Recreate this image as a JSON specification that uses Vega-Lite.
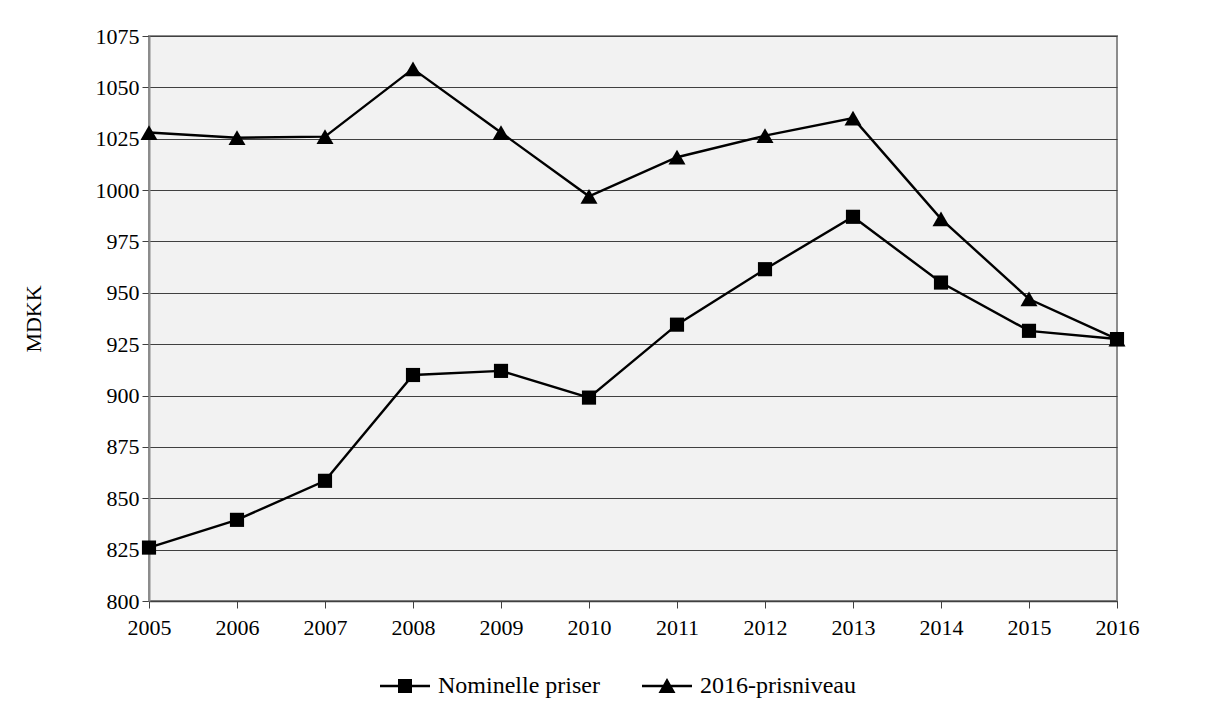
{
  "$schema": "https://vega.github.io/schema/vega-lite/v6.json",
  "autosize": "none",
  "width": 968,
  "height": 565,
  "padding": {"left": 149, "top": 36, "right": 102, "bottom": 119},
  "background": "white",
  "config": {
    "font": "Liberation Serif",
    "view": {"fill": "#f2f2f2", "stroke": "#8c8c8c", "strokeWidth": 2},
    "axis": {
      "labelFont": "Liberation Serif", "titleFont": "Liberation Serif",
      "labelFontSize": 22, "titleFontSize": 22, "labelColor": "black", "titleColor": "black",
      "titleFontWeight": "normal", "tickColor": "#404040", "tickSize": 7,
      "domainColor": "#8c8c8c", "domainWidth": 2
    },
    "legend": {"labelFont": "Liberation Serif", "labelFontSize": 24, "labelColor": "black", "labelLimit": 400}
  },
  "data": {"values": [
    {"year": 2005, "series": "Nominelle priser", "v": 826},
    {"year": 2006, "series": "Nominelle priser", "v": 839.5},
    {"year": 2007, "series": "Nominelle priser", "v": 858.5},
    {"year": 2008, "series": "Nominelle priser", "v": 910},
    {"year": 2009, "series": "Nominelle priser", "v": 912},
    {"year": 2010, "series": "Nominelle priser", "v": 899},
    {"year": 2011, "series": "Nominelle priser", "v": 934.5},
    {"year": 2012, "series": "Nominelle priser", "v": 961.5},
    {"year": 2013, "series": "Nominelle priser", "v": 987},
    {"year": 2014, "series": "Nominelle priser", "v": 955},
    {"year": 2015, "series": "Nominelle priser", "v": 931.5},
    {"year": 2016, "series": "Nominelle priser", "v": 927.5},
    {"year": 2005, "series": "2016-prisniveau", "v": 1028},
    {"year": 2006, "series": "2016-prisniveau", "v": 1025.5},
    {"year": 2007, "series": "2016-prisniveau", "v": 1026},
    {"year": 2008, "series": "2016-prisniveau", "v": 1059},
    {"year": 2009, "series": "2016-prisniveau", "v": 1028},
    {"year": 2010, "series": "2016-prisniveau", "v": 997},
    {"year": 2011, "series": "2016-prisniveau", "v": 1016},
    {"year": 2012, "series": "2016-prisniveau", "v": 1026.5},
    {"year": 2013, "series": "2016-prisniveau", "v": 1035},
    {"year": 2014, "series": "2016-prisniveau", "v": 986},
    {"year": 2015, "series": "2016-prisniveau", "v": 947},
    {"year": 2016, "series": "2016-prisniveau", "v": 927.5}
  ]},
  "encoding": {
    "x": {"field": "year", "type": "quantitative", "scale": {"domain": [2005, 2016], "nice": false, "zero": false},
      "axis": {"title": null, "values": [2005,2006,2007,2008,2009,2010,2011,2012,2013,2014,2015,2016], "format": "d", "grid": false, "labelFlush": false, "labelPadding": 9, "domainColor": "#404040", "domainWidth": 1.5}},
    "y": {"field": "v", "type": "quantitative", "scale": {"domain": [800, 1075], "nice": false, "zero": false},
      "axis": {"title": "MDKK", "format": "d", "values": [800,825,850,875,900,925,950,975,1000,1025,1050,1075], "grid": true, "gridColor": "#404040", "gridWidth": 1, "labelPadding": 3, "titlePadding": 50}}
  },
  "layer": [
    {"mark": {"type": "line", "color": "black", "strokeWidth": 2.4},
     "encoding": {"detail": {"field": "series"}}},
    {"mark": {"type": "point", "filled": true, "color": "black", "opacity": 1},
     "encoding": {
       "shape": {"field": "series", "type": "nominal",
         "scale": {"domain": ["Nominelle priser", "2016-prisniveau"], "range": ["square", "triangle-up"]},
         "legend": null},
       "size": {"field": "series", "type": "nominal",
         "scale": {"domain": ["Nominelle priser", "2016-prisniveau"], "range": [200, 290]},
         "legend": null}
     }},
    {"mark": {"type": "point", "filled": true, "color": "black", "opacity": 0, "size": 1},
     "encoding": {
       "shape": {"field": "series", "type": "nominal",
         "scale": {"domain": ["Nominelle priser", "2016-prisniveau"],
                   "range": ["M-1,-0.048H1V0.048H-1ZM-0.28,-0.28H0.28V0.28H-0.28Z", "M-1,-0.048H1V0.048H-1ZM0,-0.32L0.34,0.28H-0.34Z"]},
         "legend": {
           "title": null, "orient": "none", "direction": "horizontal",
           "legendX": 231, "legendY": 625,
           "symbolSize": 2500, "symbolStrokeWidth": 0, "symbolFillColor": "black",
           "symbolOpacity": 1, "columnPadding": 42, "labelOffset": 8
         }}
     }}
  ],
  "resolve": {"scale": {"shape": "independent"}, "legend": {"shape": "independent"}}
}
